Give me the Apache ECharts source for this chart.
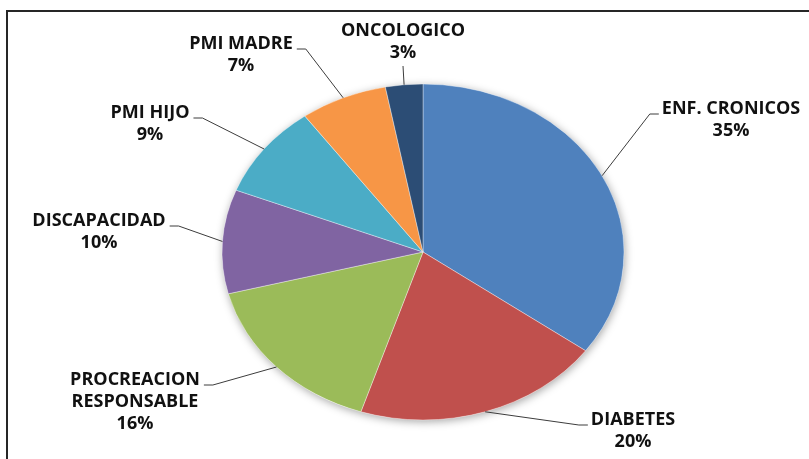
<!DOCTYPE html>
<html>
<head>
<meta charset="utf-8">
<script src="https://cdn.jsdelivr.net/npm/echarts@6/dist/echarts.min.js"></script>
<style>
html, body { margin: 0; padding: 0; background: #fff; }
#chart { width: 809px; height: 459px; }
</style>
</head>
<body>
<div id="chart"></div>
<script>
const categories = ['ENF. CRONICOS', 'DIABETES', 'PROCREACION\nRESPONSABLE', 'DISCAPACIDAD', 'PMI HIJO', 'PMI MADRE', 'ONCOLOGICO'];
const shares = [35, 20, 16, 10, 9, 7, 3];
const colors = ['#4F81BD', '#C0504D', '#9BBB59', '#8064A2', '#4BACC6', '#F79646', '#2C4D75'];

// pie geometry (the original pie is drawn slightly squashed)
const CX = 423, CY = 252, RX = 201, RY = 168;
const FONT = 'bold 18px "Open Sans"';
// label block: centre x, first line y, where the leader line meets the text
const labelSpots = [
    [731, 109, 'left'],
    [633, 420, 'left'],
    [135, 380, 'right'],
    [99, 221, 'right'],
    [150, 113, 'right'],
    [241, 44, 'right'],
    [403, 31, 'below']
];

const total = shares.reduce((a, b) => a + b, 0);
const ctx = document.createElement('canvas').getContext('2d');
ctx.font = FONT;

function renderSlice(params, api) {
    const i = params.dataIndex;
    const v = api.value(0);
    let before = 0;
    for (let k = 0; k < i; k++) before += shares[k];
    const a0 = before / total * Math.PI * 2;
    const a1 = (before + v) / total * Math.PI * 2;
    const mid = (a0 + a1) / 2;
    const ex = CX + RX * Math.sin(mid);
    const ey = CY - RY * Math.cos(mid);

    const spot = labelSpots[i];
    const first = categories[i].split('\n')[0];
    const w = ctx.measureText(first).width;
    let pts;
    if (spot[2] === 'left') {
        const l = spot[0] - w / 2;
        pts = [[ex, ey], [l - 12, spot[1] + 5], [l - 3, spot[1] + 5]];
    } else if (spot[2] === 'right') {
        const r = spot[0] + w / 2;
        pts = [[ex, ey], [r + 13, spot[1] + 5], [r + 4, spot[1] + 5]];
    } else {
        pts = [[ex, ey], [spot[0], spot[1] + 35]];
    }

    const children = [];
    if (i === 0) {
        children.push({
            type: 'circle',
            shape: { cx: CX, cy: CY, r: RX },
            scaleY: RY / RX, originX: CX, originY: CY,
            style: { fill: '#fff', shadowBlur: 8, shadowColor: 'rgba(0,0,0,0.35)', shadowOffsetX: 1, shadowOffsetY: 2 }
        });
    }
    children.push({
        type: 'sector',
        shape: { cx: CX, cy: CY, r0: 0, r: RX, startAngle: a0 - Math.PI / 2, endAngle: a1 - Math.PI / 2, clockwise: true },
        scaleY: RY / RX, originX: CX, originY: CY,
        style: { fill: colors[i], stroke: 'rgba(255,255,255,0.5)', lineWidth: 0.8 }
    });
    children.push({
        type: 'polyline',
        shape: { points: pts },
        style: { stroke: '#3c3c3c', lineWidth: 1, fill: null }
    });
    children.push({
        type: 'text',
        style: {
            text: categories[i] + '\n' + Math.round(v / total * 100) + '%',
            x: spot[0], y: spot[1] - 11,
            align: 'center', verticalAlign: 'top',
            font: FONT, lineHeight: 22, fill: '#111'
        }
    });
    return { type: 'group', children: children };
}

const myChart = echarts.init(document.getElementById('chart'));
const option = {
    animation: false,
    graphic: [
        {
            type: 'rect',
            z: 0,
            shape: { x: 7, y: 11, width: 1000, height: 1000 },
            style: { fill: null, stroke: '#262626', lineWidth: 2 }
        }
    ],
    series: [
        {
            type: 'custom',
            coordinateSystem: 'none',
            z: 2,
            renderItem: renderSlice,
            data: shares.map((v, i) => ({ value: [v], name: categories[i] }))
        }
    ]
};
myChart.setOption(option);
</script>
</body>
</html>
